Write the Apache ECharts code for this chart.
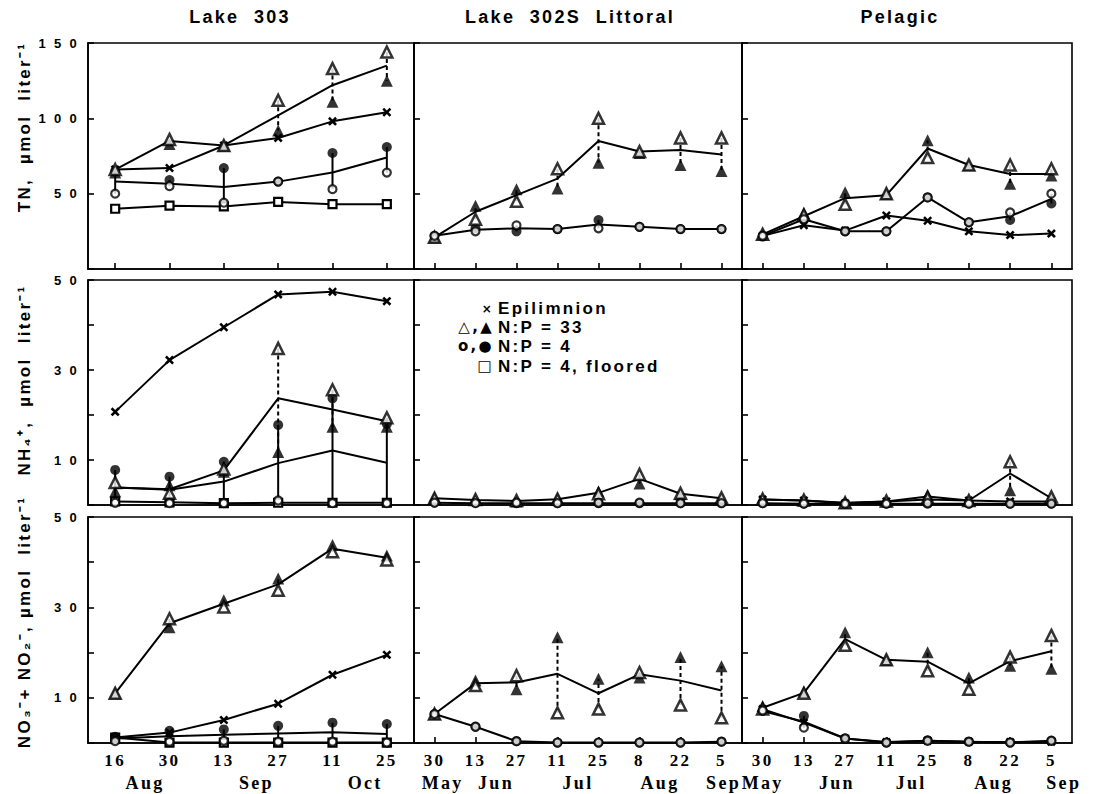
<!DOCTYPE html>
<html><head><meta charset="utf-8">
<script src="https://cdn.jsdelivr.net/npm/echarts@6/dist/echarts.min.js"></script>
<style>
html,body{margin:0;padding:0;background:#fff;}
#main{width:1093px;height:794px;}
#main text{letter-spacing:2.3px;}
</style></head><body><div id="main"></div>
<script>
// ---------- categories & labels ----------
const dates303 = ['16','30','13','27','11','25'];
const dates302 = ['30','13','27','11','25','8','22','5'];
const datesPel = ['30','13','27','11','25','8','22','5'];
const months303 = ['Aug','Sep','Oct'];
const months303At = [0.55, 2.6, 4.6];
const months302 = ['May','Jun','Jul','Aug','Sep'];
const months302At = [0.2, 1.5, 3.5, 5.5, 7.05];
const monthsPel = ['May','Jun','Jul','Aug','Sep'];
const monthsPelAt = [0, 1.8, 3.6, 5.6, 7.3];
const panelTitles = ['Lake  303', 'Lake  302S  Littoral', 'Pelagic'];
const rowNames = ['TN,  \u00b5mol  liter\u207b\u00b9', 'NH\u2084\u207a,  \u00b5mol  liter\u207b\u00b9', 'NO\u2083\u207b+ NO\u2082\u207b, \u00b5mol  liter\u207b\u00b9'];
const tnTickLabels = [50, 100, 150];
const nh4TickLabels = [10, 30, 50];
const no3TickLabels = [10, 30, 50];
const legendSymbols = ['\u00d7', '\u25b3,\u25b2', 'o,\u25cf', '\u25a1'];
const legendLabels = ['Epilimnion', 'N:P = 33', 'N:P = 4', 'N:P = 4, floored'];

// ---------- TN ----------
const tn303Epi     = [66, 67, 82, 87, 98, 104];
const tn303Np33Open = [66, 86, 82, 112, 133, 144];
const tn303Np33Fill = [64, 83, 82, 92, 111, 125];
const tn303Np33Line = [66, 85, 82, 102, 122, 135];
const tn303Np4Open  = [50, 55, 44, 58, 53, 64];
const tn303Np4Fill  = [65, 59, 67, 58, 77, 81];
const tn303Np4Line  = [58, 56.5, 54.5, 58, 64, 74];
const tn303Floored  = [40, 42, 41.5, 44.5, 43, 43];

const tn302Np33Open = [21, 33, 45, 66.5, 100, 78, 87, 87];
const tn302Np33Fill = [21, 42, 53, 53.5, 70.5, 77, 69, 65];
const tn302Np33Line = [21, 38, 49, 60, 85, 78, 79, 76];
const tn302Np4Open  = [22, 25, 29, 26.5, 27, 28, 26.5, 26.5];
const tn302Np4Fill  = [22, 27, 25, 26.5, 32.5, 28, 26.5, 26.5];
const tn302Np4Line  = [22, 26, 27, 26.5, 29.5, 28, 26.5, 26.5];

const tnPelEpi      = [22, 29, 25.5, 35.5, 32, 25, 22.5, 23.5];
const tnPelNp33Open = [23, 36, 43, 50, 74, 69, 69, 66.5];
const tnPelNp33Fill = [23, 37, 51, 50, 85.5, 69, 56.5, 62];
const tnPelNp33Line = [23, 35, 47, 49, 80, 69, 63, 63];
const tnPelNp4Open  = [22, 33, 25, 25, 47.5, 31, 37.5, 50];
const tnPelNp4Fill  = [21.5, 33, 25, 25, 47.5, 31, 32.5, 43.5];
const tnPelNp4Line  = [22, 33, 25, 25, 47.5, 31, 35, 46.5];

// ---------- NH4 ----------
const nh303Epi      = [20.7, 32.2, 39.5, 46.8, 47.4, 45.3];
const nh303Np33Open = [5.0, 2.6, 8.0, 34.8, 25.6, 19.4];
const nh303Np33Fill = [3.0, 4.4, 7.4, 11.8, 17.4, 17.4];
const nh303Np33Line = [3.9, 3.5, 7.7, 23.7, 21.2, 18.6];
const nh303Np4Open  = [0.5, 0.4, 0.4, 1.0, 0.4, 0.4];
const nh303Np4Fill  = [7.8, 6.3, 9.6, 17.8, 23.7, 18.0];
const nh303Np4Line  = [3.9, 3.4, 5.2, 9.3, 12.1, 9.4];
const nh303Floored  = [0.8, 0.6, 0.4, 0.5, 0.5, 0.5];

const nh302Np33Open = [1.5, 1.2, 1.0, 1.3, 2.5, 6.8, 2.6, 1.6];
const nh302Np33Fill = [1.6, 1.1, 0.8, 1.4, 3.0, 4.8, 2.4, 1.4];
const nh302Np33Line = [1.5, 1.1, 0.9, 1.3, 2.7, 5.8, 2.5, 1.5];
const nh302Np4Open  = [0.5, 0.4, 0.5, 0.4, 0.5, 0.5, 0.4, 0.4];
const nh302Np4Fill  = [0.6, 0.5, 0.4, 0.4, 0.4, 0.4, 0.4, 0.4];
const nh302Np4Line  = [0.5, 0.4, 0.4, 0.4, 0.4, 0.4, 0.4, 0.4];

const nhPelEpi      = [1.2, 1.0, 0.4, 0.8, 1.2, 1.0, 0.8, 0.8];
const nhPelNp33Open = [1.3, 1.1, 0.5, 0.9, 1.6, 1.0, 9.6, 1.8];
const nhPelNp33Fill = [1.2, 1.0, 0.5, 0.8, 2.3, 1.0, 3.3, 1.2];
const nhPelNp33Line = [1.2, 1.0, 0.5, 0.8, 1.9, 1.0, 7.0, 1.5];
const nhPelNp4Open  = [0.4, 0.3, 0.3, 0.3, 0.4, 0.3, 0.3, 0.3];
const nhPelNp4Fill  = [0.4, 0.3, 0.3, 0.3, 0.3, 0.3, 0.3, 0.3];
const nhPelNp4Line  = [0.4, 0.3, 0.3, 0.3, 0.3, 0.3, 0.3, 0.3];

// ---------- NO3 + NO2 ----------
const no303Epi      = [1.2, 2.3, 5.1, 8.7, 15.1, 19.5];
const no303Np33Open = [11, 27.5, 30.1, 33.8, 42.3, 40.5];
const no303Np33Fill = [11, 25.6, 31.6, 36.4, 43.8, 41.5];
const no303Np33Line = [11, 26.5, 30.8, 35.1, 43, 41];
const no303Np4Open  = [0.4, 0.3, 0.5, 0.3, 0.3, 0.1];
const no303Np4Fill  = [1.4, 2.7, 3.0, 3.8, 4.5, 4.2];
const no303Np4Line  = [1.0, 1.5, 1.8, 2.1, 2.4, 2.0];
const no303Floored  = [1.2, 0.1, 0.1, 0.1, 0.1, 0.1];

const no302Np33Open = [6.4, 12.7, 14.9, 6.7, 7.5, 15.6, 8.4, 5.6];
const no302Np33Fill = [6.4, 13.8, 11.9, 23.4, 14.2, 14.5, 19.0, 17.0];
const no302Np33Line = [6.4, 13.2, 13.4, 15.3, 11.0, 15.2, 13.8, 11.6];
const no302Np4Open  = [6.4, 3.6, 0.4, 0.1, 0.1, 0.1, 0.1, 0.3];
const no302Np4Fill  = [6.4, 3.6, 0.4, 0.1, 0.1, 0.1, 0.1, 0.3];
const no302Np4Line  = [6.4, 3.6, 0.4, 0.1, 0.1, 0.1, 0.1, 0.3];

const noPelEpi      = [7.5, 4.5, 1.0, 0.2, 0.5, 0.3, 0.2, 0.3];
const noPelNp33Open = [7.5, 11.0, 21.6, 18.4, 16.0, 11.9, 19.0, 23.8];
const noPelNp33Fill = [8.2, 11.3, 24.5, 18.4, 20.1, 14.5, 17.1, 16.4];
const noPelNp33Line = [7.8, 11.1, 23.0, 18.4, 18.0, 13.2, 18.1, 20.3];
const noPelNp4Open  = [7.2, 3.4, 1.0, 0.1, 0.5, 0.3, 0.1, 0.5];
const noPelNp4Fill  = [7.1, 6.0, 1.0, 0.1, 0.6, 0.3, 0.1, 0.5];
const noPelNp4Line  = [7.1, 4.7, 1.0, 0.1, 0.5, 0.3, 0.1, 0.5];

// ---------- layout ----------
const colX = [[88, 414], [414, 742], [742, 1072]];
const rowY = [[43, 269], [280, 505], [517, 743]];
const colCats = [dates303, dates302, datesPel];
const colMonths = [[months303, months303At], [months302, months302At], [monthsPel, monthsPelAt]];
const rowScale = [{max: 150, interval: 50, ticks: tnTickLabels}, {max: 50, interval: 10, ticks: nh4TickLabels}, {max: 50, interval: 10, ticks: no3TickLabels}];

const panels = [
  [ {epi: tn303Epi, o33: tn303Np33Open, f33: tn303Np33Fill, l33: tn303Np33Line, o4: tn303Np4Open, f4: tn303Np4Fill, l4: tn303Np4Line, fl: tn303Floored},
    {o33: tn302Np33Open, f33: tn302Np33Fill, l33: tn302Np33Line, o4: tn302Np4Open, f4: tn302Np4Fill, l4: tn302Np4Line},
    {epi: tnPelEpi, o33: tnPelNp33Open, f33: tnPelNp33Fill, l33: tnPelNp33Line, o4: tnPelNp4Open, f4: tnPelNp4Fill, l4: tnPelNp4Line} ],
  [ {epi: nh303Epi, o33: nh303Np33Open, f33: nh303Np33Fill, l33: nh303Np33Line, o4: nh303Np4Open, f4: nh303Np4Fill, l4: nh303Np4Line, fl: nh303Floored},
    {o33: nh302Np33Open, f33: nh302Np33Fill, l33: nh302Np33Line, o4: nh302Np4Open, f4: nh302Np4Fill, l4: nh302Np4Line},
    {epi: nhPelEpi, o33: nhPelNp33Open, f33: nhPelNp33Fill, l33: nhPelNp33Line, o4: nhPelNp4Open, f4: nhPelNp4Fill, l4: nhPelNp4Line} ],
  [ {epi: no303Epi, o33: no303Np33Open, f33: no303Np33Fill, l33: no303Np33Line, o4: no303Np4Open, f4: no303Np4Fill, l4: no303Np4Line, fl: no303Floored},
    {o33: no302Np33Open, f33: no302Np33Fill, l33: no302Np33Line, o4: no302Np4Open, f4: no302Np4Fill, l4: no302Np4Line},
    {epi: noPelEpi, o33: noPelNp33Open, f33: noPelNp33Fill, l33: noPelNp33Line, o4: noPelNp4Open, f4: noPelNp4Fill, l4: noPelNp4Line} ]
];

const SANS = 'Liberation Sans';
const SERIF = 'Liberation Serif';
const X_PATH = 'path://M0,2L2,0L5,3L8,0L10,2L7,5L10,8L8,10L5,7L2,10L0,8L3,5Z';
const spaced = v => String(v).split('').join(' ');

const grids = [], xAxes = [], yAxes = [], series = [];
for (let r = 0; r < 3; r++) {
  for (let c = 0; c < 3; c++) {
    const gi = grids.length;
    grids.push({left: colX[c][0], top: rowY[r][0], width: colX[c][1] - colX[c][0], height: rowY[r][1] - rowY[r][0],
      show: true, borderColor: '#000', borderWidth: 1.6, backgroundColor: 'transparent', containLabel: false});
    xAxes.push({type: 'category', gridIndex: gi, data: colCats[c], boundaryGap: true,
      axisLine: {show: true, lineStyle: {color: '#000', width: 1.6}},
      axisTick: {show: r !== 1, inside: true, length: 6, alignWithLabel: true, lineStyle: {color: '#000', width: 1.6}},
      axisLabel: {show: r === 2, interval: 0, color: '#000', fontFamily: SERIF, fontWeight: 'bold', fontSize: 17, margin: 9},
      splitLine: {show: false}});
    const sc = rowScale[r];
    yAxes.push({type: 'value', gridIndex: gi, min: 0, max: sc.max, interval: sc.interval,
      axisLine: {show: true, lineStyle: {color: '#000', width: 1.6}},
      axisTick: {show: true, inside: true, length: 6, lineStyle: {color: '#000', width: 1.6}},
      axisLabel: {show: c === 0, color: '#000', fontFamily: SANS, fontWeight: 'bold', fontSize: 13, margin: 9,
        formatter: v => sc.ticks.includes(v) ? spaced(v) : ''},
      splitLine: {show: false}});

    const d = panels[r][c];
    const base = {xAxisIndex: gi, yAxisIndex: gi, animation: false, silent: true};
    // mean lines
    series.push(Object.assign({type: 'line', data: d.l33, showSymbol: false, symbol: 'none', z: 2,
      lineStyle: {color: '#000', width: 2}}, base));
    series.push(Object.assign({type: 'line', data: d.l4, showSymbol: false, symbol: 'none', z: 2,
      lineStyle: {color: '#000', width: 2}}, base));
    // connectors between replicate enclosures
    const conn = (open, fill, dashed) => Object.assign({type: 'custom', z: 3,
      data: open.map((v, i) => [i, v, fill[i]]),
      encode: {x: 0, y: [1, 2]},
      renderItem: (params, api) => {
        const p1 = api.coord([api.value(0), api.value(1)]);
        const p2 = api.coord([api.value(0), api.value(2)]);
        return {type: 'line', shape: {x1: p1[0], y1: p1[1], x2: p2[0], y2: p2[1]},
          style: {stroke: '#000', lineWidth: 2, lineDash: dashed ? [4, 3] : null}};
      }}, base);
    series.push(conn(d.o33, d.f33, true));
    series.push(conn(d.o4, d.f4, false));
    if (d.fl) {
      series.push(Object.assign({type: 'line', data: d.fl, symbol: 'rect', symbolSize: 8, z: 4,
        lineStyle: {color: '#000', width: 2}, itemStyle: {color: '#fff', borderColor: '#000', borderWidth: 2.2}}, base));
    }
    if (d.epi) {
      series.push(Object.assign({type: 'line', data: d.epi, symbol: X_PATH, symbolSize: 9, z: 4,
        lineStyle: {color: '#000', width: 2}, itemStyle: {color: '#000', borderWidth: 0}}, base));
    }
    series.push(Object.assign({type: 'scatter', data: d.f33, symbol: 'triangle', symbolSize: 12, z: 5,
      itemStyle: {color: '#000'}}, base));
    series.push(Object.assign({type: 'scatter', data: d.f4, symbol: 'circle', symbolSize: 10, z: 5,
      itemStyle: {color: '#000'}}, base));
    series.push(Object.assign({type: 'scatter', data: d.o33, symbol: 'triangle', symbolSize: 11, z: 6,
      itemStyle: {color: '#fff', borderColor: '#000', borderWidth: 2.5}}, base));
    series.push(Object.assign({type: 'scatter', data: d.o4, symbol: 'circle', symbolSize: 8, z: 6,
      itemStyle: {color: '#fff', borderColor: '#000', borderWidth: 2.2}}, base));
  }
}

const chart = echarts.init(document.getElementById('main'), null, {renderer: 'svg', width: 1093, height: 794});
chart.setOption({animation: false, backgroundColor: '#fff', grid: grids, xAxis: xAxes, yAxis: yAxes, series: series});

// ---------- text elements ----------
const graphics = [];
const titleX = [240, 570, 900];
panelTitles.forEach((t, c) => graphics.push({type: 'text', x: titleX[c], y: 17,
  style: {text: t, fill: '#000', font: 'bold 18px "Liberation Sans"', textAlign: 'center', textVerticalAlign: 'middle'}}));
const nameY = [127, 380, 622];
rowNames.forEach((t, r) => graphics.push({type: 'text', x: 24, y: nameY[r], rotation: Math.PI / 2,
  style: {text: t, fill: '#000', font: 'bold 17px "Liberation Sans"', textAlign: 'center', textVerticalAlign: 'middle'}}));
// month labels under the day labels, placed through the category axes
colMonths.forEach(([names, at], c) => {
  const axisIdx = 6 + c;
  const n = colCats[c].length;
  names.forEach((nm, k) => {
    const pos = at[k];
    const i0 = Math.floor(pos), i1 = Math.min(i0 + 1, n - 1);
    const p0 = chart.convertToPixel({xAxisIndex: axisIdx}, i0);
    const p1 = chart.convertToPixel({xAxisIndex: axisIdx}, i1);
    const step = i1 > i0 ? (p1 - p0) : (chart.convertToPixel({xAxisIndex: axisIdx}, i0) - chart.convertToPixel({xAxisIndex: axisIdx}, i0 - 1));
    const x = p0 + (pos - i0) * step;
    graphics.push({type: 'text', x: x, y: 783,
      style: {text: nm, fill: '#000', font: 'bold 18px "Liberation Serif"', textAlign: 'center', textVerticalAlign: 'middle'}});
  });
});
// legend inside the middle NH4 panel
const legY = [308, 327, 346, 366];
legendLabels.forEach((t, k) => {
  graphics.push({type: 'text', x: 498, y: legY[k],
    style: {text: t, fill: '#000', font: 'bold 17px "Liberation Sans"', textAlign: 'left', textVerticalAlign: 'middle'}});
  graphics.push({type: 'text', x: 494, y: legY[k] + (k === 0 ? 1 : 0),
    style: {text: legendSymbols[k], fill: '#000', font: (k === 0 ? 'bold 12px' : 'bold 15px') + ' "DejaVu Sans"', textAlign: 'right', textVerticalAlign: 'middle'}});
});
chart.setOption({graphic: graphics});
</script></body></html>
